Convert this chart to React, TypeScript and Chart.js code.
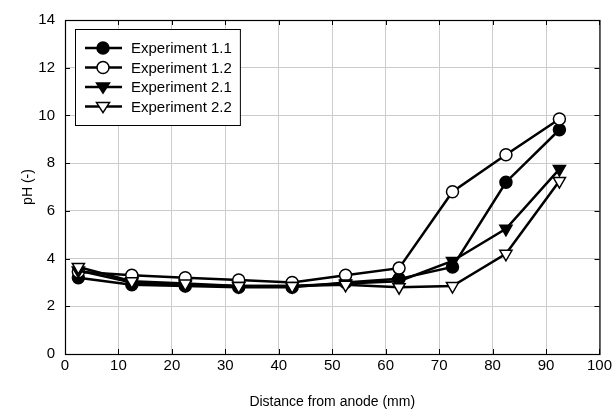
import React, { useEffect, useRef } from "react";
import { Chart, registerables } from "chart.js";

Chart.register(...registerables);

const distances = [2.5, 12.5, 22.5, 32.5, 42.5, 52.5, 62.5, 72.5, 82.5, 92.5];
const exp11 = [3.2, 2.9, 2.85, 2.8, 2.8, 3.0, 3.15, 3.65, 7.2, 9.4];
const exp12 = [3.45, 3.3, 3.2, 3.1, 3.0, 3.3, 3.6, 6.8, 8.35, 9.85];
const exp21 = [3.5, 3.0, 2.9, 2.85, 2.85, 2.95, 3.05, 3.9, 5.25, 7.75];
const exp22 = [3.65, 3.05, 2.95, 2.85, 2.85, 2.9, 2.8, 2.85, 4.2, 7.25];
const seriesNames = ["Experiment 1.1", "Experiment 1.2", "Experiment 2.1", "Experiment 2.2"];

const FONT = "'Liberation Sans', Arial, sans-serif";

type Mk = { shape: "circle" | "tri"; filled: boolean };
const markers: Mk[] = [
  { shape: "circle", filled: true },
  { shape: "circle", filled: false },
  { shape: "tri", filled: true },
  { shape: "tri", filled: false },
];

function drawMarker(ctx: CanvasRenderingContext2D, x: number, y: number, m: Mk) {
  ctx.save();
  ctx.beginPath();
  if (m.shape === "circle") {
    ctx.arc(x, y, 6, 0, Math.PI * 2);
  } else {
    const r = 6.5;
    ctx.moveTo(x - r, y - r * 0.6);
    ctx.lineTo(x + r, y - r * 0.6);
    ctx.lineTo(x, y + r * 0.95);
    ctx.closePath();
  }
  ctx.fillStyle = m.filled ? "#000" : "#fff";
  ctx.fill();
  ctx.lineWidth = 1.5;
  ctx.strokeStyle = "#000";
  ctx.stroke();
  ctx.restore();
}

const framePlugin = {
  id: "frame",
  afterDatasetsDraw(chart: any) {
    const { ctx, chartArea: a, scales } = chart;
    ctx.save();
    ctx.strokeStyle = "#000";
    ctx.lineWidth = 1;
    const tl = 5;
    ctx.beginPath();
    scales.x.ticks.forEach((t: any) => {
      const px = Math.round(scales.x.getPixelForValue(t.value)) + 0.5;
      ctx.moveTo(px, a.bottom);
      ctx.lineTo(px, a.bottom - tl);
      ctx.moveTo(px, a.top);
      ctx.lineTo(px, a.top + tl);
    });
    scales.y.ticks.forEach((t: any) => {
      const py = Math.round(scales.y.getPixelForValue(t.value)) + 0.5;
      ctx.moveTo(a.left, py);
      ctx.lineTo(a.left + tl, py);
      ctx.moveTo(a.right, py);
      ctx.lineTo(a.right - tl, py);
    });
    ctx.stroke();
    ctx.lineWidth = 1.2;
    ctx.strokeRect(a.left + 0.5, a.top + 0.5, a.right - a.left, a.bottom - a.top);
    ctx.restore();
  },
  afterDraw(chart: any) {
    const { ctx, chartArea: a } = chart;
    ctx.save();
    ctx.font = `15px ${FONT}`;
    const bx = a.left + 10;
    const by = a.top + 9;
    const rowH = 19.5;
    const textX = bx + 56;
    let maxW = 0;
    seriesNames.forEach((n) => (maxW = Math.max(maxW, ctx.measureText(n).width)));
    const bw = textX - bx + maxW + 8;
    const bh = 96;
    ctx.fillStyle = "#fff";
    ctx.fillRect(bx, by, bw, bh);
    ctx.strokeStyle = "#000";
    ctx.lineWidth = 1;
    ctx.strokeRect(bx + 0.5, by + 0.5, bw, bh);
    seriesNames.forEach((n, i) => {
      const cy = by + 19 + i * rowH;
      ctx.beginPath();
      ctx.lineWidth = 2.5;
      ctx.moveTo(bx + 10, cy);
      ctx.lineTo(bx + 47, cy);
      ctx.stroke();
      drawMarker(ctx, bx + 28, cy, markers[i]);
      ctx.fillStyle = "#000";
      ctx.textBaseline = "middle";
      ctx.textAlign = "left";
      ctx.fillText(n, textX, cy + 1);
    });
    ctx.restore();
  },
};

export default function App() {
  const ref = useRef<HTMLCanvasElement>(null);
  useEffect(() => {
    if (!ref.current) return;
    const all = [exp11, exp12, exp21, exp22];
    const chart = new Chart(ref.current, {
      type: "scatter",
      data: {
        datasets: all.map((vals, i) => ({
          label: seriesNames[i],
          data: distances.map((d, j) => ({ x: d, y: vals[j] })),
          showLine: true,
          borderColor: "#000",
          borderWidth: 2.5,
          pointStyle: markers[i].shape === "circle" ? "circle" : "triangle",
          pointRotation: markers[i].shape === "circle" ? 0 : 180,
          pointRadius: markers[i].shape === "circle" ? 6 : 7,
          pointBorderWidth: 1.5,
          pointBorderColor: "#000",
          pointBackgroundColor: markers[i].filled ? "#000" : "#fff",
          order: 4 - i,
        })),
      },
      options: {
        responsive: false,
        animation: false,
        devicePixelRatio: 1,
        layout: { padding: { top: 20, right: 13, left: 0, bottom: 0 } },
        plugins: { legend: { display: false }, tooltip: { enabled: false } },
        scales: {
          x: {
            type: "linear",
            min: 0,
            max: 100,
            afterFit: (s: any) => {
              s.height = 59;
            },
            ticks: { stepSize: 10, color: "#000", font: { family: FONT, size: 15 }, padding: 3, maxRotation: 0 },
            grid: { color: "#cccccc", drawTicks: false, lineWidth: 1 },
            border: { display: false },
            title: {
              display: true,
              text: "Distance from anode (mm)",
              color: "#000",
              font: { family: FONT, size: 14 },
              padding: { top: 0, bottom: 2 },
            },
          },
          y: {
            min: 0,
            max: 14,
            afterFit: (s: any) => {
              s.width = 65;
            },
            ticks: { stepSize: 2, color: "#000", font: { family: FONT, size: 15 }, padding: 10 },
            grid: { color: "#cccccc", drawTicks: false, lineWidth: 1 },
            border: { display: false },
            title: {
              display: true,
              text: "pH (-)",
              color: "#000",
              font: { family: FONT, size: 14 },
              padding: { top: 20, bottom: 0 },
            },
          },
        },
      },
      plugins: [framePlugin],
    });
    return () => chart.destroy();
  }, []);
  return (
    <div style={{ position: "absolute", left: 0, top: 0, width: 615, height: 413, background: "#fff" }}>
      <canvas ref={ref} width={615} height={413} />
    </div>
  );
}
